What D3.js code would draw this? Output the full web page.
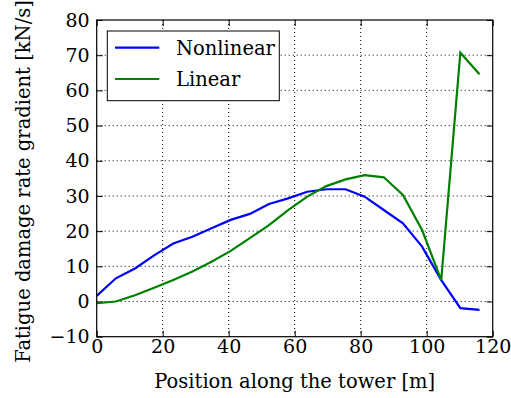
<!DOCTYPE html>
<html><head><meta charset="utf-8">
<script src="https://cdn.jsdelivr.net/npm/d3@7"></script>
<style>body{margin:0;background:#fff}svg{display:block}</style>
</head><body>
<svg id="c" width="511" height="398"></svg>
<script>
const positions = [0,5.8,11.6,17.4,23.2,29,34.8,40.6,46.4,52.2,58,63.8,69.6,75.4,81.2,87,92.8,98.6,104.4,110.2,116];
const nonlinear = [1.6,6.6,9.4,13.1,16.5,18.4,20.8,23.2,24.9,27.7,29.3,31.2,31.9,31.9,29.8,26,22.2,15.6,6.1,-1.9,-2.4];
const linear = [-0.5,0,1.8,3.9,6.1,8.5,11.3,14.4,18,21.7,26,29.8,32.8,34.7,35.9,35.3,30.3,20.3,6.1,70.7,64.6];
const xTicks = [0,20,40,60,80,100,120];
const yTicks = [-10,0,10,20,30,40,50,60,70,80];
const seriesNames = ["Nonlinear","Linear"];
const seriesColors = ["#0000ff","#008000"];

const font = "'DejaVu Serif', serif";
const fsTick = "19px";
const fsTitle = "19.5px";
const svg = d3.select("#c");
const L=96.7, R=492.7, T=20, B=336.7;
const x = d3.scaleLinear().domain([0,120]).range([L,R]);
const y = d3.scaleLinear().domain([-10,80]).range([B,T]);
const g = svg.append("g");

// grid
g.append("g").selectAll("line").data(xTicks.slice(1,-1)).join("line")
  .attr("x1",d=>x(d)).attr("x2",d=>x(d)).attr("y1",T).attr("y2",B)
  .attr("stroke","#000").attr("stroke-width",1).attr("stroke-dasharray","1,3");
g.append("g").selectAll("line").data(yTicks.slice(1,-1)).join("line")
  .attr("y1",d=>y(d)).attr("y2",d=>y(d)).attr("x1",L).attr("x2",R)
  .attr("stroke","#000").attr("stroke-width",1).attr("stroke-dasharray","1,3");

// axes with inward ticks
function styleAxis(sel){
  sel.select(".domain").remove();
  sel.selectAll("text").attr("font-family",font).attr("font-size",fsTick).attr("fill","#000");
  sel.selectAll("line").attr("stroke","#000");
}
const fmt = d => d<0 ? "\u2212"+Math.abs(d) : String(d);
g.append("g").attr("transform",`translate(0,${B})`)
  .call(d3.axisBottom(x).tickValues(xTicks).tickSizeInner(-6).tickSizeOuter(0).tickPadding(3).tickFormat(fmt)).call(styleAxis);
g.append("g").attr("transform",`translate(0,${T})`)
  .call(d3.axisTop(x).tickValues(xTicks).tickSizeInner(-6).tickSizeOuter(0).tickFormat("")).call(styleAxis);
g.append("g").attr("transform",`translate(${L},0)`)
  .call(d3.axisLeft(y).tickValues(yTicks).tickSizeInner(-6).tickSizeOuter(0).tickPadding(7).tickFormat(fmt)).call(styleAxis);
g.append("g").attr("transform",`translate(${R},0)`)
  .call(d3.axisRight(y).tickValues(yTicks).tickSizeInner(-6).tickSizeOuter(0).tickFormat("")).call(styleAxis);

// lines
const line = d3.line().x(d=>x(d[0])).y(d=>y(d[1]));
[nonlinear, linear].forEach((vals,i)=>{
  g.append("path").datum(positions.map((p,j)=>[p,vals[j]]))
    .attr("d",line).attr("fill","none").attr("stroke",seriesColors[i])
    .attr("stroke-width",2.2).attr("stroke-linejoin","miter");
});

// frame
g.append("rect").attr("x",L).attr("y",T).attr("width",R-L).attr("height",B-T)
  .attr("fill","none").attr("stroke","#000").attr("stroke-width",1.2);

// legend
const lg = g.append("g");
lg.append("rect").attr("x",107.3).attr("y",31).attr("width",172).attr("height",69.7)
  .attr("fill","#fff").attr("stroke","#000").attr("stroke-width",1);
seriesNames.forEach((n,i)=>{
  const yy = 47.7 + i*31.3;
  lg.append("line").attr("x1",115).attr("x2",159.3).attr("y1",yy).attr("y2",yy)
    .attr("stroke",seriesColors[i]).attr("stroke-width",2.2);
  lg.append("text").attr("x",176).attr("y",yy).attr("dy","0.35em")
    .attr("font-family",font).attr("font-size",fsTitle).text(n);
});

// axis titles
svg.append("text").attr("x",(L+R)/2).attr("y",388).attr("text-anchor","middle")
  .attr("font-family",font).attr("font-size",fsTitle).text("Position along the tower [m]");
svg.append("text").attr("transform",`translate(30,181.5) rotate(-90)`).attr("text-anchor","middle")
  .attr("font-family",font).attr("font-size",fsTitle).text("Fatigue damage rate gradient [kN/s]");
</script>
</body></html>
